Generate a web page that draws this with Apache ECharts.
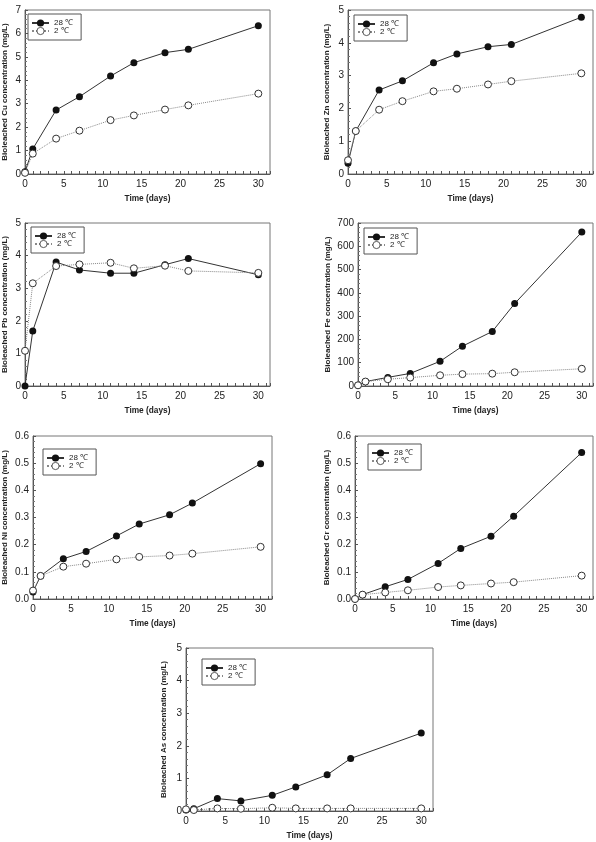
<!DOCTYPE html>
<html>
<head>
<meta charset="utf-8">
<title>Bioleached metal concentration</title>
<script src="https://cdn.jsdelivr.net/npm/echarts@6/dist/echarts.min.js"></script>
<style>
  html, body { margin: 0; padding: 0; background: #fff; }
  #main { width: 596px; height: 842px; }
</style>
</head>
<body>
<div id="main"></div>
<script>
// sampling days
const days = [0, 1, 4, 7, 11, 14, 18, 21, 30]
const hotName = '28 ℃'
const coldName = '2 ℃'

// values, mg/L
const cu28 = [0.1, 1.07, 2.73, 3.3, 4.18, 4.75, 5.18, 5.32, 6.33]
const cu2 = [0.05, 0.87, 1.51, 1.85, 2.3, 2.5, 2.75, 2.93, 3.43]
const zn28 = [0.33, 1.31, 2.56, 2.84, 3.39, 3.66, 3.88, 3.95, 4.78]
const zn2 = [0.42, 1.31, 1.96, 2.22, 2.52, 2.6, 2.73, 2.83, 3.07]
const pb28 = [0, 1.69, 3.8, 3.56, 3.46, 3.46, 3.72, 3.91, 3.41]
const pb2 = [1.08, 3.15, 3.68, 3.73, 3.78, 3.61, 3.69, 3.53, 3.47]
const fe28 = [3, 19, 37, 54, 106, 171, 234, 354, 661]
const fe2 = [3, 19, 29, 36, 46, 51, 53, 59, 74]
const ni28 = [0.026, 0.085, 0.148, 0.175, 0.232, 0.276, 0.31, 0.353, 0.498]
const ni2 = [0.031, 0.085, 0.119, 0.13, 0.146, 0.155, 0.16, 0.167, 0.192]
const cr28 = [0, 0.016, 0.045, 0.072, 0.131, 0.186, 0.231, 0.305, 0.539]
const cr2 = [0, 0.016, 0.024, 0.032, 0.044, 0.05, 0.057, 0.062, 0.086]
const as28 = [0.03, 0.07, 0.38, 0.31, 0.48, 0.74, 1.11, 1.61, 2.39]
const as2 = [0.05, 0.03, 0.08, 0.07, 0.1, 0.08, 0.08, 0.08, 0.08]

// y axis ranges
const yMaxes = [7, 5, 5, 700, 0.6, 0.6, 5]
const ySteps = [1, 1, 1, 100, 0.1, 0.1, 1]
const yDigits = [0, 0, 0, 0, 1, 1, 0]
const metals = ['Cu', 'Zn', 'Pb', 'Fe', 'Ni', 'Cr', 'As']
const hotData = [cu28, zn28, pb28, fe28, ni28, cr28, as28]
const coldData = [cu2, zn2, pb2, fe2, ni2, cr2, as2]

// layout of the 7 panels (px)
const layout = [
  { left: 23, top: 10, width: 247, height: 164, yGap: 16, legend: [28, 14] },
  { left: 348, top: 10, width: 248, height: 164, yGap: 17, legend: [354, 15] },
  { left: 23, top: 223, width: 247, height: 163, yGap: 16, legend: [31, 227] },
  { left: 358, top: 223, width: 237, height: 163, yGap: 26, legend: [364, 228] },
  { left: 30, top: 436, width: 242, height: 163, yGap: 24, legend: [43, 449] },
  { left: 355, top: 436, width: 241, height: 163, yGap: 24, legend: [368, 444] },
  { left: 186, top: 648, width: 247, height: 163, yGap: 18, legend: [202, 659] }
]

const font = 'Liberation Sans, Arial, sans-serif'
const grids = []
const xAxes = []
const yAxes = []
const legends = []
const series = []

metals.forEach((m, i) => {
  const l = layout[i]
  grids.push({
    left: l.left,
    top: l.top,
    width: l.width,
    height: l.height,
    show: true,
    borderColor: '#777',
    borderWidth: 1
  })
  xAxes.push({
    type: 'value',
    gridIndex: i,
    min: 0,
    max: 31.5,
    interval: 1,
    name: 'Time (days)',
    nameLocation: 'middle',
    nameGap: 21,
    nameTextStyle: { fontFamily: font, fontSize: 8.3, fontWeight: 'bold', color: '#222' },
    axisLine: { lineStyle: { color: '#555', width: 1 } },
    axisTick: { inside: true, length: 3, lineStyle: { color: '#555' } },
    axisLabel: {
      fontFamily: font,
      fontSize: 10,
      color: '#222',
      margin: 5,
      formatter: v => (v % 5 === 0 ? String(v) : '')
    },
    splitLine: { show: false }
  })
  yAxes.push({
    type: 'value',
    gridIndex: i,
    min: 0,
    max: yMaxes[i],
    interval: ySteps[i],
    name: 'Bioleached ' + m + ' concentration (mg/L)',
    nameLocation: 'middle',
    nameRotate: 90,
    nameGap: l.yGap,
    nameTextStyle: { fontFamily: font, fontSize: 8, fontWeight: 'bold', color: '#222' },
    axisLine: { show: true, lineStyle: { color: '#555', width: 1 } },
    axisTick: { show: true, inside: true, length: 3, lineStyle: { color: '#555' } },
    minorTick: { show: true, splitNumber: 5, length: 2, lineStyle: { color: '#777' } },
    axisLabel: {
      fontFamily: font,
      fontSize: 10,
      color: '#222',
      margin: 4,
      formatter: v => v.toFixed(yDigits[i])
    },
    splitLine: { show: false }
  })
  legends.push({
    data: [hotName, coldName],
    orient: 'vertical',
    left: l.legend[0],
    top: l.legend[1],
    padding: [5, 8, 5, 3],
    itemGap: 0,
    itemWidth: 17,
    itemHeight: 9,
    borderColor: '#555',
    borderWidth: 1,
    itemStyle: { borderWidth: 0.8 },
    textStyle: { fontFamily: font, fontSize: 8, color: '#222' }
  })
  series.push({
    name: hotName,
    type: 'line',
    xAxisIndex: i,
    yAxisIndex: i,
    data: days.map((d, k) => [d, hotData[i][k]]),
    symbol: 'circle',
    symbolSize: 7,
    lineStyle: { color: '#333', width: 1 },
    itemStyle: { color: '#111' }
  })
  series.push({
    name: coldName,
    type: 'line',
    xAxisIndex: i,
    yAxisIndex: i,
    data: days.map((d, k) => [d, coldData[i][k]]),
    symbol: 'circle',
    symbolSize: 7,
    lineStyle: { color: '#888', width: 1, type: 'dotted' },
    itemStyle: { color: '#fff', borderColor: '#333', borderWidth: 1 }
  })
})

const chart = echarts.init(document.getElementById('main'))
chart.setOption({
  animation: false,
  backgroundColor: '#fff',
  grid: grids,
  xAxis: xAxes,
  yAxis: yAxes,
  legend: legends,
  series: series
})

window.onresize = function () {
  chart.resize()
}
</script>
</body>
</html>
